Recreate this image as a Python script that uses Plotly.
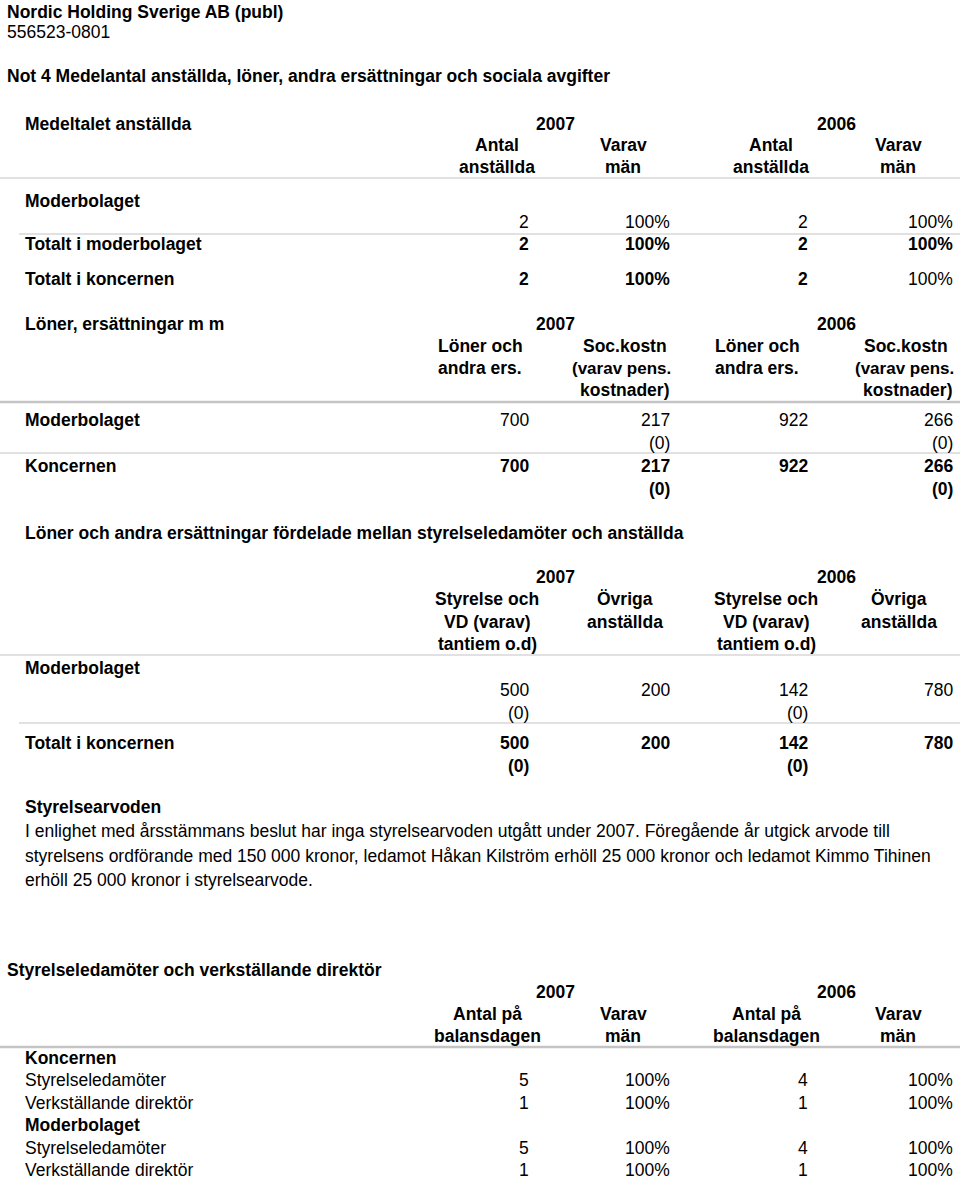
import plotly.graph_objects as go

# ---------------- data ----------------
years = ["2007", "2006"]

medel_labels = ["Moderbolaget", "Totalt i moderbolaget", "Totalt i koncernen"]
medel_antal_2007 = [2, 2, 2]
medel_man_2007 = [100, 100, 100]
medel_antal_2006 = [2, 2, 2]
medel_man_2006 = [100, 100, 100]

loner_labels = ["Moderbolaget", "Koncernen"]
loner_ers_2007 = [700, 700]
loner_soc_2007 = [217, 217]
loner_pens_2007 = [0, 0]
loner_ers_2006 = [922, 922]
loner_soc_2006 = [266, 266]
loner_pens_2006 = [0, 0]

fordel_labels = ["Moderbolaget", "Totalt i koncernen"]
fordel_styr_2007 = [500, 500]
fordel_tant_2007 = [0, 0]
fordel_ovr_2007 = [200, 200]
fordel_styr_2006 = [142, 142]
fordel_tant_2006 = [0, 0]
fordel_ovr_2006 = [780, 780]

ledning_groups = ["Koncernen", "Moderbolaget"]
ledning_roles = ["Styrelseledamöter", "Verkställande direktör"]
ledning_antal_2007 = [5, 1, 5, 1]
ledning_man_2007 = [100, 100, 100, 100]
ledning_antal_2006 = [4, 1, 4, 1]
ledning_man_2006 = [100, 100, 100, 100]

company = "Nordic Holding Sverige AB (publ)"
org_nr = "556523-0801"
note_title = "Not 4 Medelantal anställda, löner, andra ersättningar och sociala avgifter"
arvode_title = "Styrelsearvoden"
arvode_lines = [
    "I enlighet med årsstämmans beslut har inga styrelsearvoden utgått under 2007. Föregående år utgick arvode till",
    "styrelsens ordförande med 150 000 kronor, ledamot Håkan Kilström erhöll 25 000 kronor och ledamot Kimmo Tihinen",
    "erhöll 25 000 kronor i styrelsearvode.",
]

# ---------------- layout constants ----------------
W, H = 960, 1179
FONT = "Liberation Sans, Arial, Helvetica, sans-serif"
SZ = 17.5
LX = 23           # label column
COL_R = [531, 672, 810, 955]   # right edges of value columns
YEAR_C = [555, 836]
HEAD_C = [497, 623, 771, 898]
LINE_C = "#c4c4c4"

ann = []
shapes = []


def txt(x, y, s, anchor="left", bold=False, size=SZ):
    if bold:
        s = "<b>" + s + "</b>"
    ann.append(dict(x=x, y=y, xref="x", yref="y", text=s, showarrow=False,
                    xanchor=anchor, yanchor="middle",
                    font=dict(family=FONT, size=size, color="#000")))


def hline(y, x0=0, x1=W, w=1.2):
    shapes.append(dict(type="line", xref="x", yref="y", x0=x0, x1=x1, y0=y, y1=y,
                       line=dict(color=LINE_C, width=w)))


def pct(v):
    return f"{v}%"


# header
txt(5, 12, company, bold=True)
txt(5, 32, org_nr)
txt(5, 76, note_title, bold=True)

# ---- table 1: Medeltalet anställda ----
txt(LX, 124, "Medeltalet anställda", bold=True)
for i, yr in enumerate(years):
    txt(YEAR_C[i], 124, yr, "center", bold=True)
for k, (a, b) in enumerate([("Antal", "anställda"), ("Varav", "män")] * 2):
    txt(HEAD_C[k], 145, a, "center", bold=True)
    txt(HEAD_C[k], 167, b, "center", bold=True)
hline(178)
txt(LX, 201, medel_labels[0], bold=True)
row_y1 = [222, 244, 279]
for r in range(3):
    if r > 0:
        txt(LX, row_y1[r], medel_labels[r], bold=True)
    vals = [str(medel_antal_2007[r]), pct(medel_man_2007[r]),
            str(medel_antal_2006[r]), pct(medel_man_2006[r])]
    for c, v in enumerate(vals):
        bold = r > 0 and not (r == 2 and c == 3)
        txt(COL_R[c], row_y1[r], v, "right", bold=bold)
hline(234, x0=19)

# ---- table 2: Löner, ersättningar m m ----
txt(LX, 324, "Löner, ersättningar m m", bold=True)
for i, yr in enumerate(years):
    txt(YEAR_C[i], 324, yr, "center", bold=True)
for i, (xl, xs, xr) in enumerate([(436, 581, COL_R[1]), (713, 862, COL_R[3])]):
    txt(xl, 346, "Löner och", bold=True)
    txt(xl, 368, "andra ers.", bold=True)
    txt(xs, 346, "Soc.kostn", bold=True)
    txt(xr + 1, 368, "(varav pens.", "right", bold=True, size=17)
    txt(xr - 1, 390, "kostnader)", "right", bold=True)
hline(402, w=2.5)
row_y2 = [420, 466]
for r in range(2):
    b = r == 1
    y = row_y2[r]
    txt(LX, y, loner_labels[r], bold=True)
    txt(COL_R[0], y, str(loner_ers_2007[r]), "right", bold=b)
    txt(COL_R[1], y, str(loner_soc_2007[r]), "right", bold=b)
    txt(COL_R[1], y + 23, f"({loner_pens_2007[r]})", "right", bold=b)
    txt(COL_R[2], y, str(loner_ers_2006[r]), "right", bold=b)
    txt(COL_R[3], y, str(loner_soc_2006[r]), "right", bold=b)
    txt(COL_R[3], y + 23, f"({loner_pens_2006[r]})", "right", bold=b)
hline(453)

# ---- table 3: fördelning ----
txt(LX, 533, "Löner och andra ersättningar fördelade mellan styrelseledamöter och anställda", bold=True)
for i, yr in enumerate(years):
    txt(YEAR_C[i], 577, yr, "center", bold=True)
for cs, co in [(487, 625), (766, 899)]:
    txt(cs, 599, "Styrelse och", "center", bold=True)
    txt(cs, 622, "VD (varav)", "center", bold=True)
    txt(cs, 644, "tantiem o.d)", "center", bold=True)
    txt(co, 599, "Övriga", "center", bold=True)
    txt(co, 622, "anställda", "center", bold=True)
hline(655)
txt(LX, 668, fordel_labels[0], bold=True)
row_y3 = [690, 743]
for r in range(2):
    b = r == 1
    y = row_y3[r]
    if r == 1:
        txt(LX, y, fordel_labels[1], bold=True)
    txt(COL_R[0], y, str(fordel_styr_2007[r]), "right", bold=b)
    txt(COL_R[0], y + 23, f"({fordel_tant_2007[r]})", "right", bold=b)
    txt(COL_R[1], y, str(fordel_ovr_2007[r]), "right", bold=b)
    txt(COL_R[2], y, str(fordel_styr_2006[r]), "right", bold=b)
    txt(COL_R[2], y + 23, f"({fordel_tant_2006[r]})", "right", bold=b)
    txt(COL_R[3], y, str(fordel_ovr_2006[r]), "right", bold=b)
hline(723, x0=19)

# ---- Styrelsearvoden ----
txt(LX, 807, arvode_title, bold=True)
for i, line in enumerate(arvode_lines):
    txt(LX, 831 + i * 24.5, line)

# ---- table 4 ----
txt(5, 970, "Styrelseledamöter och verkställande direktör", bold=True)
for i, yr in enumerate(years):
    txt(YEAR_C[i], 992, yr, "center", bold=True)
for k, (a, b) in enumerate([("Antal på", "balansdagen"), ("Varav", "män")] * 2):
    xc = [487, 623, 766, 898][k]
    txt(xc, 1014, a, "center", bold=True)
    txt(xc, 1036, b, "center", bold=True)
hline(1047, w=2.5)
y = 1058
idx = 0
for g in ledning_groups:
    txt(LX, y, g, bold=True)
    y += 22.4
    for role in ledning_roles:
        txt(LX, y, role)
        vals = [str(ledning_antal_2007[idx]), pct(ledning_man_2007[idx]),
                str(ledning_antal_2006[idx]), pct(ledning_man_2006[idx])]
        for c, v in enumerate(vals):
            txt(COL_R[c], y, v, "right")
        y += 22.4
        idx += 1

fig = go.Figure()
fig.update_layout(
    width=W, height=H,
    margin=dict(l=0, r=0, t=0, b=0),
    paper_bgcolor="white", plot_bgcolor="white",
    xaxis=dict(range=[0, W], visible=False, fixedrange=True),
    yaxis=dict(range=[H, 0], visible=False, fixedrange=True),
    annotations=ann, shapes=shapes, showlegend=False,
)
fig.write_html(
    "out.html",
    config={"displayModeBar": False},
    post_script="document.body.style.margin='0';document.body.style.overflow='hidden';",
)
